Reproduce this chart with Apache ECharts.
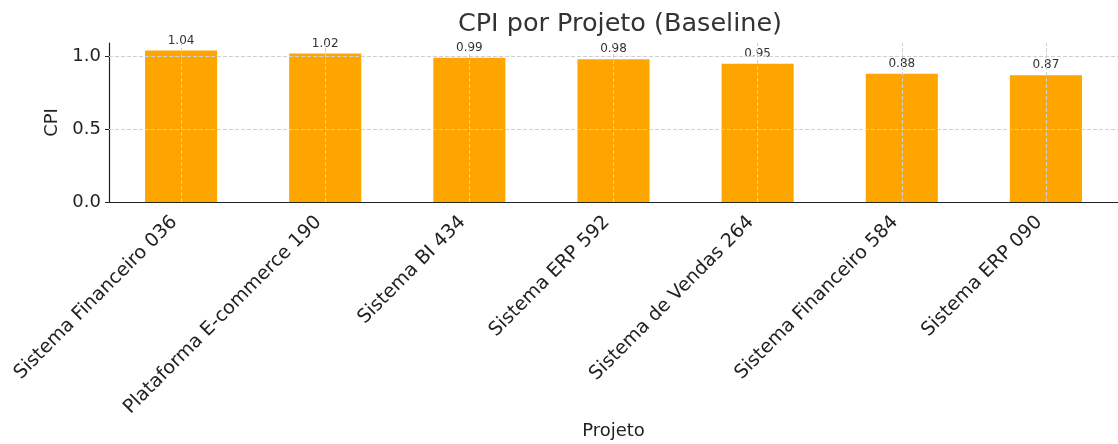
<!DOCTYPE html>
<html>
<head>
<meta charset="utf-8">
<script src="https://cdn.jsdelivr.net/npm/echarts@6/dist/echarts.min.js"></script>
<style>
  html, body { margin: 0; padding: 0; background: #fff; }
  #chart { width: 1118px; height: 444px; }
</style>
</head>
<body>
<div id="chart"></div>
<script>
const titleText = "CPI por Projeto (Baseline)";
const categories = [
  "Sistema Financeiro 036",
  "Plataforma E-commerce 190",
  "Sistema BI 434",
  "Sistema ERP 592",
  "Sistema de Vendas 264",
  "Sistema Financeiro 584",
  "Sistema ERP 090"
];
const cpiValues = [1.04, 1.02, 0.99, 0.98, 0.95, 0.88, 0.87];
const yTicks = [0, 0.5, 1.0];

const FONT = "DejaVu Sans";
const gridLineStyle = { color: "#cfcfcf", type: [4, 2], width: 1 };

const markData = categories.map(c => ({ xAxis: c, lineStyle: gridLineStyle }))
  .concat(yTicks.filter(v => v > 0).map(v => ({ yAxis: v, lineStyle: gridLineStyle })));

const chart = echarts.init(document.getElementById("chart"), null, { renderer: "canvas" });
chart.setOption({
  animation: false,
  backgroundColor: "#ffffff",
  title: {
    text: titleText,
    left: 615,
    top: 6,
    textAlign: "center",
    textStyle: { fontFamily: FONT, fontSize: 25.5, fontWeight: "normal", color: "#333333" }
  },
  grid: { left: 109, top: 43, width: 1012, bottom: 242, containLabel: false },
  xAxis: {
    type: "category",
    data: categories,
    boundaryGap: true,
    name: "Projeto",
    nameLocation: "middle",
    nameGap: 220,
    nameTextStyle: { fontFamily: FONT, fontSize: 18, color: "#222222" },
    axisLine: { lineStyle: { color: "#222222", width: 1.2 } },
    axisTick: { alignWithLabel: true, length: 4, lineStyle: { color: "#222222" } },
    axisLabel: {
      rotate: 45, fontFamily: FONT, fontSize: 19, color: "#222222",
      margin: 24, interval: 0, verticalAlign: "bottom"
    },
    splitLine: { show: false }
  },
  yAxis: {
    type: "value",
    min: 0,
    max: 1.092,
    interval: 0.5,
    name: "CPI",
    nameLocation: "middle",
    nameGap: 45,
    nameTextStyle: { fontFamily: FONT, fontSize: 18, color: "#222222" },
    axisLine: { show: true, lineStyle: { color: "#222222", width: 1.2 } },
    axisTick: { show: true, length: 4, customValues: yTicks, lineStyle: { color: "#222222" } },
    axisLabel: {
      fontFamily: FONT, fontSize: 18, color: "#222222", margin: 8,
      customValues: yTicks,
      formatter: v => v.toFixed(1)
    },
    splitLine: { show: false }
  },
  series: [{
    type: "bar",
    data: cpiValues,
    barWidth: "50%",
    itemStyle: { color: "#FFA500" },
    label: {
      show: true,
      position: "top",
      distance: 4,
      fontFamily: FONT,
      fontSize: 12,
      color: "#333333",
      formatter: p => p.value.toFixed(2)
    },
    markLine: {
      silent: true,
      symbol: "none",
      label: { show: false },
      data: markData
    }
  }]
});
</script>
</body>
</html>
